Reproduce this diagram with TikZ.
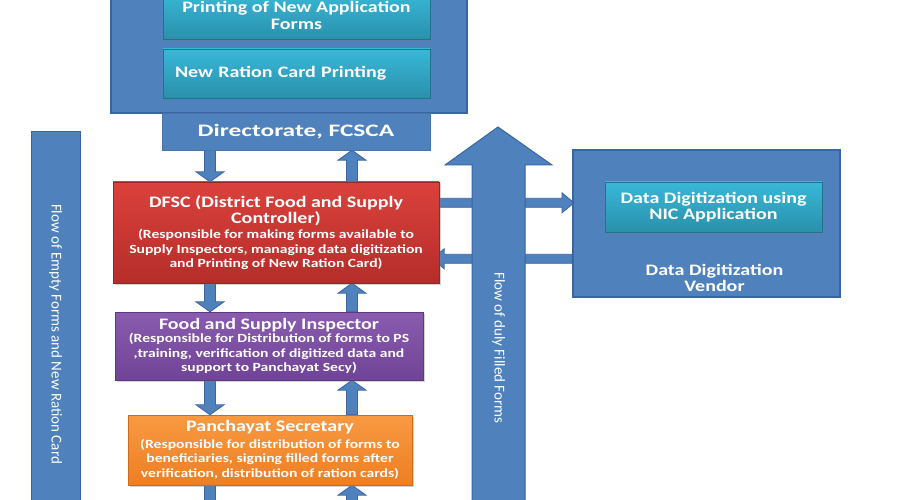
\documentclass[tikz,border=0pt]{standalone}
\usepackage{fontspec}
\setmainfont{Carlito}
\newfontfamily\stretchfont{Carlito}[FakeStretch=1.25]
\newfontfamily\widefont{Carlito}[FakeStretch=1.45]
\usetikzlibrary{calc,shadows}
\pgfdeclarelayer{bg}
\pgfsetlayers{bg,main}
\definecolor{ablue}{HTML}{4F81BD}
\definecolor{bborder}{HTML}{3A65A3}
\definecolor{cyantop}{HTML}{38B8D8}
\definecolor{cyanbot}{HTML}{2A90AB}
\definecolor{redtop}{HTML}{DB413C}
\definecolor{redbot}{HTML}{B52D2A}
\definecolor{purtop}{HTML}{8A5CB0}
\definecolor{purbot}{HTML}{6F4395}
\definecolor{orgtop}{HTML}{F89A42}
\definecolor{orgbot}{HTML}{EE7E22}
\newcommand\sub{\fontsize{12.5}{14.5}\selectfont}
\newcommand\ttlf{\fontsize{16}{16.5}\selectfont}
\tikzset{
  box/.style={inner sep=0pt, text=white, font=\stretchfont\bfseries\ttlf, align=center},
  subbox/.style={font=\stretchfont\bfseries\sub},
  bluebox/.style={box, fill=ablue, draw=bborder},
  cyanbox/.style={box, top color=cyantop, bottom color=cyanbot, draw=cyanbot!80!black,
     drop shadow={opacity=0.35, shadow xshift=1pt, shadow yshift=-1.5pt}},
  colbox/.style n args={2}{box, subbox, top color=#1, bottom color=#2, draw=#2!85!black,
     drop shadow={opacity=0.35, shadow xshift=1.5pt, shadow yshift=-1.5pt}},
  barrow/.style={fill=ablue, draw=bborder, line width=0.8pt, line join=miter},
  vtext/.style={text=white, font=\fontsize{15}{16}\selectfont, inner sep=0pt}
}
\newcommand\blockarrow[5]{%
  \coordinate (bah) at ($(#2)!#5!(#1)$);
  \draw[barrow] ($(#1)!#3!90:(#2)$) -- ($(bah)!#3!-90:(#1)$) -- ($(bah)!#4!-90:(#1)$)
    -- (#2) -- ($(bah)!#4!90:(#1)$) -- ($(bah)!#3!90:(#1)$) -- ($(#1)!#3!-90:(#2)$) -- cycle;
}
\begin{document}
\begin{tikzpicture}[x=1pt,y=-1pt]
\clip (0,0) rectangle (900,500);
\begin{pgfonlayer}{bg}
\fill[white] (0,0) rectangle (900,500);
\end{pgfonlayer}

% top container
\node[bluebox, draw=bborder, line width=2.5pt, minimum width=356pt, minimum height=123pt] (cont) at (289,51.5) {};
\node[cyanbox, minimum width=267pt, minimum height=48pt] (pna) at (296.5,15.5)
  {Printing of New Application\\Forms};
\node[cyanbox, minimum width=267pt, minimum height=49pt, text width=243pt, align=left] (nrcp) at (296.5,73.5)
  {New Ration Card Printing};
\node[box, font=\widefont\bfseries\fontsize{17.5}{18}\selectfont, fill=ablue, draw=ablue!90!black,
  minimum width=268pt, minimum height=37pt] (dir) at (296,131.5)
  {Directorate, FCSCA};

% hierarchy
\node[colbox={redtop}{redbot}, minimum width=326pt, minimum height=101pt] (dfsc) at (276,232.5)
  {\ttlf DFSC (District Food and Supply\\[1.5pt]\ttlf Controller)\\[1pt]
   (Responsible for making forms available to\\Supply Inspectors, managing data digitization\\and Printing of New Ration Card)};
\node[colbox={purtop}{purbot}, minimum width=308pt, minimum height=68pt] (fsi) at (269,346)
  {\ttlf Food and Supply Inspector\\[-1pt]
   (Responsible for Distribution of forms to PS\\,training, verification of digitized data and\\support to Panchayat Secy)};
\node[colbox={orgtop}{orgbot}, minimum width=284pt, minimum height=70pt] (ps) at (270,450)
  {\ttlf Panchayat Secretary\\[2pt]
   (Responsible for distribution of forms to\\beneficiaries, signing filled forms after\\verification, distribution of ration cards)};

% left bar
\node[bluebox, draw=bborder, line width=1pt, minimum width=49pt, minimum height=404pt] (lbar) at (55.5,334) {};
\node[vtext, rotate=-90] (ltext) at (lbar.center) {Flow of Empty Forms and New Ration Card};

% vendor
\node[bluebox, draw=bborder, line width=2pt, minimum width=267pt, minimum height=147pt,
  label={[box, anchor=south, yshift=6pt, xshift=8pt]south:Data Digitization\\Vendor}] (vendor) at (706.5,223.5) {};
\node[cyanbox, minimum width=217pt, minimum height=50pt] (nic) at (713.5,207)
  {Data Digitization using\\NIC Application};

% columns
\coordinate (cd) at (210,0);
\coordinate (cu) at (352,0);
\coordinate (pd) at (210,520);
\coordinate (pu) at (352,520);
\coordinate (h1a) at ([yshift=-21pt]dfsc.north east);
\coordinate (h1b) at ([xshift=2pt]h1a -| vendor.west);
\coordinate (h2a) at ([yshift=-77pt,xshift=-7pt]dfsc.north east);
\coordinate (h2b) at (h2a -| vendor.west);

\begin{pgfonlayer}{bg}
  \blockarrow{dir.south -| cd}{dfsc.north -| cd}{5.5pt}{14pt}{10pt}
  \blockarrow{dfsc.north -| cu}{dir.south -| cu}{5.5pt}{14pt}{10pt}
  \blockarrow{dfsc.south -| cd}{fsi.north -| cd}{5.5pt}{14pt}{10pt}
  \blockarrow{fsi.north -| cu}{dfsc.south -| cu}{5.5pt}{14pt}{10pt}
  \blockarrow{fsi.south -| cd}{ps.north -| cd}{5.5pt}{14pt}{10pt}
  \blockarrow{ps.north -| cu}{fsi.south -| cu}{5.5pt}{14pt}{10pt}
  \blockarrow{ps.south -| cd}{pd}{5.5pt}{14pt}{10pt}
  \blockarrow{pu}{ps.south -| cu}{5.5pt}{14pt}{10pt}
  \blockarrow{h1a}{h1b}{4.5pt}{10pt}{12pt}
  \blockarrow{h2b}{h2a}{4.5pt}{10pt}{12pt}
\end{pgfonlayer}

% big up arrow
\coordinate (bigtip) at (498,127);
\draw[barrow, line width=1pt] (472,520) -- (472,165) -- (445,165) -- (bigtip) -- (552,165) -- (525,165) -- (525,520) -- cycle;
\node[vtext, rotate=-90] (btext) at (498.5,348) {Flow of duly Filled Forms};
\end{tikzpicture}
\end{document}
